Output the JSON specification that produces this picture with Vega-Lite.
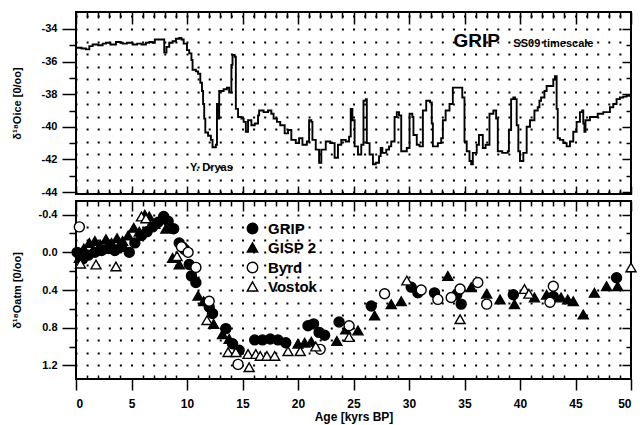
{
  "$schema": "https://vega.github.io/schema/vega-lite/v6.json",
  "background": "white",
  "padding": {"left": 10, "top": 10, "right": 5, "bottom": 2},
  "spacing": 0,
  "config": {
    "view": {"stroke": "black", "strokeWidth": 2},
    "font": "Liberation Sans",
    "axis": {
      "labelFont": "Liberation Sans", "labelFontWeight": "bold", "labelColor": "black", "labelFontSize": 11,
      "titleFont": "Liberation Sans", "titleFontWeight": "bold", "titleColor": "black", "titleFontSize": 11,
      "tickColor": "black", "tickWidth": 1.5, "domain": false, "grid": false
    }
  },
  "datasets": {
    "ice": [
      {"age": 0.0, "d18o": -35.15}, {"age": 0.5, "d18o": -35.2}, {"age": 0.9, "d18o": -35.25}, {"age": 1.2, "d18o": -35.05},
      {"age": 1.5, "d18o": -34.95}, {"age": 2.0, "d18o": -35.0}, {"age": 2.4, "d18o": -34.9}, {"age": 2.7, "d18o": -34.85},
      {"age": 3.1, "d18o": -34.95}, {"age": 3.6, "d18o": -34.8}, {"age": 4.0, "d18o": -34.85}, {"age": 4.2, "d18o": -34.9},
      {"age": 4.6, "d18o": -34.85}, {"age": 5.1, "d18o": -34.95}, {"age": 5.5, "d18o": -34.9}, {"age": 5.9, "d18o": -34.95},
      {"age": 6.3, "d18o": -34.85}, {"age": 6.6, "d18o": -34.8}, {"age": 6.9, "d18o": -34.85}, {"age": 7.1, "d18o": -34.65},
      {"age": 7.7, "d18o": -34.65}, {"age": 7.95, "d18o": -35.45}, {"age": 8.15, "d18o": -35.1}, {"age": 8.4, "d18o": -34.85},
      {"age": 8.7, "d18o": -34.75}, {"age": 9.0, "d18o": -34.6}, {"age": 9.3, "d18o": -34.55}, {"age": 9.5, "d18o": -34.65},
      {"age": 9.7, "d18o": -34.9}, {"age": 10.0, "d18o": -35.3}, {"age": 10.2, "d18o": -35.5}, {"age": 10.4, "d18o": -35.9},
      {"age": 10.5, "d18o": -36.5}, {"age": 10.8, "d18o": -36.6}, {"age": 11.0, "d18o": -36.75}, {"age": 11.2, "d18o": -37.3},
      {"age": 11.35, "d18o": -37.8}, {"age": 11.45, "d18o": -38.6}, {"age": 11.55, "d18o": -39.5}, {"age": 11.65, "d18o": -40.35},
      {"age": 11.9, "d18o": -40.55}, {"age": 12.15, "d18o": -40.8}, {"age": 12.3, "d18o": -41.25}, {"age": 12.6, "d18o": -41.1},
      {"age": 12.7, "d18o": -38.6}, {"age": 12.8, "d18o": -39.5}, {"age": 12.9, "d18o": -37.8}, {"age": 13.3, "d18o": -37.7},
      {"age": 13.6, "d18o": -37.6}, {"age": 13.8, "d18o": -37.9}, {"age": 14.0, "d18o": -36.2}, {"age": 14.1, "d18o": -35.6},
      {"age": 14.3, "d18o": -35.7}, {"age": 14.4, "d18o": -38.9}, {"age": 14.6, "d18o": -39.4}, {"age": 14.9, "d18o": -39.5},
      {"age": 15.1, "d18o": -39.7}, {"age": 15.3, "d18o": -40.3}, {"age": 15.5, "d18o": -39.6}, {"age": 15.8, "d18o": -39.9},
      {"age": 16.1, "d18o": -39.8}, {"age": 16.4, "d18o": -39.3}, {"age": 16.5, "d18o": -39.0}, {"age": 16.9, "d18o": -39.1},
      {"age": 17.3, "d18o": -39.0}, {"age": 17.6, "d18o": -39.2}, {"age": 17.8, "d18o": -39.5}, {"age": 18.1, "d18o": -39.7},
      {"age": 18.4, "d18o": -39.9}, {"age": 18.8, "d18o": -40.4}, {"age": 19.1, "d18o": -40.2}, {"age": 19.4, "d18o": -40.8},
      {"age": 19.8, "d18o": -41.0}, {"age": 20.1, "d18o": -40.7}, {"age": 20.4, "d18o": -41.1}, {"age": 20.8, "d18o": -40.9},
      {"age": 21.0, "d18o": -39.6}, {"age": 21.2, "d18o": -39.7}, {"age": 21.3, "d18o": -40.8}, {"age": 21.6, "d18o": -41.4},
      {"age": 21.9, "d18o": -42.2}, {"age": 22.1, "d18o": -41.4}, {"age": 22.5, "d18o": -40.9}, {"age": 22.9, "d18o": -41.0},
      {"age": 23.3, "d18o": -41.9}, {"age": 23.6, "d18o": -41.1}, {"age": 23.9, "d18o": -40.8}, {"age": 24.3, "d18o": -40.9},
      {"age": 24.6, "d18o": -40.6}, {"age": 24.75, "d18o": -38.9}, {"age": 24.9, "d18o": -39.6}, {"age": 25.1, "d18o": -41.2},
      {"age": 25.4, "d18o": -41.7}, {"age": 25.7, "d18o": -41.1}, {"age": 25.9, "d18o": -38.4}, {"age": 26.1, "d18o": -38.3},
      {"age": 26.2, "d18o": -41.0}, {"age": 26.45, "d18o": -41.7}, {"age": 26.75, "d18o": -42.3}, {"age": 27.0, "d18o": -42.2},
      {"age": 27.3, "d18o": -41.8}, {"age": 27.45, "d18o": -41.3}, {"age": 27.6, "d18o": -41.6}, {"age": 27.95, "d18o": -41.4},
      {"age": 28.2, "d18o": -41.2}, {"age": 28.4, "d18o": -40.9}, {"age": 28.7, "d18o": -39.4}, {"age": 28.9, "d18o": -39.1},
      {"age": 29.1, "d18o": -39.3}, {"age": 29.3, "d18o": -41.5}, {"age": 29.6, "d18o": -41.5}, {"age": 29.8, "d18o": -41.3},
      {"age": 30.05, "d18o": -39.2}, {"age": 30.3, "d18o": -39.4}, {"age": 30.4, "d18o": -40.5}, {"age": 30.7, "d18o": -41.1},
      {"age": 30.95, "d18o": -41.2}, {"age": 31.25, "d18o": -39.0}, {"age": 31.55, "d18o": -38.4}, {"age": 31.9, "d18o": -38.5},
      {"age": 32.05, "d18o": -39.8}, {"age": 32.15, "d18o": -41.2}, {"age": 32.6, "d18o": -41.0}, {"age": 32.9, "d18o": -40.7},
      {"age": 33.05, "d18o": -39.6}, {"age": 33.3, "d18o": -39.0}, {"age": 33.65, "d18o": -38.6}, {"age": 33.95, "d18o": -37.6},
      {"age": 34.5, "d18o": -37.6}, {"age": 34.8, "d18o": -38.2}, {"age": 35.0, "d18o": -40.9}, {"age": 35.2, "d18o": -41.5},
      {"age": 35.45, "d18o": -42.1}, {"age": 35.6, "d18o": -42.3}, {"age": 35.75, "d18o": -41.6}, {"age": 36.1, "d18o": -41.1},
      {"age": 36.3, "d18o": -40.5}, {"age": 36.5, "d18o": -40.5}, {"age": 36.65, "d18o": -41.3}, {"age": 36.9, "d18o": -41.1},
      {"age": 37.25, "d18o": -39.2}, {"age": 37.6, "d18o": -39.0}, {"age": 37.85, "d18o": -39.5}, {"age": 38.0, "d18o": -41.5},
      {"age": 38.4, "d18o": -41.6}, {"age": 38.9, "d18o": -41.5}, {"age": 39.0, "d18o": -40.2}, {"age": 39.2, "d18o": -38.3},
      {"age": 39.4, "d18o": -38.2}, {"age": 39.55, "d18o": -38.3}, {"age": 39.7, "d18o": -39.9}, {"age": 39.85, "d18o": -41.5},
      {"age": 40.0, "d18o": -42.1}, {"age": 40.3, "d18o": -41.6}, {"age": 40.6, "d18o": -40.0}, {"age": 40.9, "d18o": -39.6},
      {"age": 41.3, "d18o": -39.0}, {"age": 41.6, "d18o": -38.8}, {"age": 41.75, "d18o": -38.4}, {"age": 41.9, "d18o": -38.2},
      {"age": 42.2, "d18o": -37.8}, {"age": 42.4, "d18o": -37.5}, {"age": 42.7, "d18o": -37.5}, {"age": 43.0, "d18o": -37.1},
      {"age": 43.15, "d18o": -36.9}, {"age": 43.3, "d18o": -38.9}, {"age": 43.4, "d18o": -40.7}, {"age": 43.6, "d18o": -40.8},
      {"age": 43.9, "d18o": -41.0}, {"age": 44.2, "d18o": -41.2}, {"age": 44.5, "d18o": -40.9}, {"age": 44.8, "d18o": -40.3},
      {"age": 45.1, "d18o": -39.7}, {"age": 45.4, "d18o": -39.1}, {"age": 45.6, "d18o": -39.0}, {"age": 45.7, "d18o": -39.8},
      {"age": 45.8, "d18o": -40.3}, {"age": 45.9, "d18o": -39.6}, {"age": 46.3, "d18o": -39.4}, {"age": 46.7, "d18o": -39.4},
      {"age": 47.0, "d18o": -39.2}, {"age": 47.5, "d18o": -39.1}, {"age": 47.8, "d18o": -39.1}, {"age": 48.1, "d18o": -38.8},
      {"age": 48.4, "d18o": -38.6}, {"age": 48.7, "d18o": -38.3}, {"age": 49.0, "d18o": -38.2}, {"age": 49.3, "d18o": -38.15},
      {"age": 49.6, "d18o": -38.1}, {"age": 50.0, "d18o": -38.0}
    ],
    "atm": [
      {"series": "GRIP", "age": 0.1, "d18o": 0.0}, {"series": "GRIP", "age": 0.6, "d18o": 0.07}, {"series": "GRIP", "age": 1.1, "d18o": 0.03},
      {"series": "GRIP", "age": 1.7, "d18o": 0.0}, {"series": "GRIP", "age": 2.3, "d18o": -0.02}, {"series": "GRIP", "age": 2.9, "d18o": -0.04},
      {"series": "GRIP", "age": 3.5, "d18o": -0.02}, {"series": "GRIP", "age": 4.1, "d18o": -0.06}, {"series": "GRIP", "age": 4.8, "d18o": 0.0},
      {"series": "GRIP", "age": 5.3, "d18o": -0.1}, {"series": "GRIP", "age": 5.9, "d18o": -0.18}, {"series": "GRIP", "age": 6.4, "d18o": -0.22},
      {"series": "GRIP", "age": 6.9, "d18o": -0.27}, {"series": "GRIP", "age": 7.4, "d18o": -0.32}, {"series": "GRIP", "age": 7.9, "d18o": -0.38},
      {"series": "GRIP", "age": 8.3, "d18o": -0.33}, {"series": "GRIP", "age": 8.8, "d18o": -0.25}, {"series": "GRIP", "age": 9.3, "d18o": -0.1},
      {"series": "GRIP", "age": 9.8, "d18o": -0.03}, {"series": "GRIP", "age": 10.2, "d18o": 0.13}, {"series": "GRIP", "age": 10.4, "d18o": 0.25},
      {"series": "GRIP", "age": 10.8, "d18o": 0.32}, {"series": "GRIP", "age": 12.0, "d18o": 0.58}, {"series": "GRIP", "age": 12.3, "d18o": 0.65},
      {"series": "GRIP", "age": 13.5, "d18o": 0.81}, {"series": "GRIP", "age": 14.1, "d18o": 0.97}, {"series": "GRIP", "age": 14.7, "d18o": 1.04},
      {"series": "GRIP", "age": 16.1, "d18o": 0.93}, {"series": "GRIP", "age": 16.8, "d18o": 0.93}, {"series": "GRIP", "age": 17.5, "d18o": 0.92},
      {"series": "GRIP", "age": 18.2, "d18o": 0.93}, {"series": "GRIP", "age": 18.9, "d18o": 0.96}, {"series": "GRIP", "age": 20.9, "d18o": 0.78},
      {"series": "GRIP", "age": 21.4, "d18o": 0.76}, {"series": "GRIP", "age": 21.9, "d18o": 0.85}, {"series": "GRIP", "age": 22.4, "d18o": 0.88},
      {"series": "GRIP", "age": 23.7, "d18o": 0.74}, {"series": "GRIP", "age": 26.6, "d18o": 0.57}, {"series": "GRIP", "age": 30.2, "d18o": 0.37},
      {"series": "GRIP", "age": 30.8, "d18o": 0.43}, {"series": "GRIP", "age": 32.3, "d18o": 0.43}, {"series": "GRIP", "age": 34.3, "d18o": 0.45},
      {"series": "GRIP", "age": 34.7, "d18o": 0.55}, {"series": "GRIP", "age": 39.4, "d18o": 0.45}, {"series": "GRIP", "age": 43.0, "d18o": 0.47},
      {"series": "GRIP", "age": 48.7, "d18o": 0.27},
      {"series": "GISP 2", "age": 0.3, "d18o": 0.06}, {"series": "GISP 2", "age": 0.7, "d18o": -0.04}, {"series": "GISP 2", "age": 1.2, "d18o": -0.1},
      {"series": "GISP 2", "age": 1.7, "d18o": -0.12}, {"series": "GISP 2", "age": 2.2, "d18o": -0.08}, {"series": "GISP 2", "age": 2.7, "d18o": -0.14},
      {"series": "GISP 2", "age": 3.2, "d18o": -0.1}, {"series": "GISP 2", "age": 3.7, "d18o": -0.15}, {"series": "GISP 2", "age": 4.2, "d18o": -0.12},
      {"series": "GISP 2", "age": 4.7, "d18o": -0.18}, {"series": "GISP 2", "age": 5.2, "d18o": -0.26}, {"series": "GISP 2", "age": 5.7, "d18o": -0.22},
      {"series": "GISP 2", "age": 6.2, "d18o": -0.4}, {"series": "GISP 2", "age": 6.6, "d18o": -0.38}, {"series": "GISP 2", "age": 7.1, "d18o": -0.3},
      {"series": "GISP 2", "age": 7.6, "d18o": -0.36}, {"series": "GISP 2", "age": 8.1, "d18o": -0.25}, {"series": "GISP 2", "age": 8.7, "d18o": 0.06},
      {"series": "GISP 2", "age": 9.3, "d18o": 0.13}, {"series": "GISP 2", "age": 9.9, "d18o": -0.05}, {"series": "GISP 2", "age": 11.0, "d18o": 0.46},
      {"series": "GISP 2", "age": 11.5, "d18o": 0.52}, {"series": "GISP 2", "age": 12.4, "d18o": 0.76}, {"series": "GISP 2", "age": 13.2, "d18o": 0.87},
      {"series": "GISP 2", "age": 13.8, "d18o": 0.92}, {"series": "GISP 2", "age": 20.0, "d18o": 0.97}, {"series": "GISP 2", "age": 20.6, "d18o": 0.96},
      {"series": "GISP 2", "age": 21.2, "d18o": 0.95}, {"series": "GISP 2", "age": 23.5, "d18o": 0.94}, {"series": "GISP 2", "age": 24.3, "d18o": 0.82},
      {"series": "GISP 2", "age": 25.4, "d18o": 0.83}, {"series": "GISP 2", "age": 26.9, "d18o": 0.67}, {"series": "GISP 2", "age": 28.4, "d18o": 0.55},
      {"series": "GISP 2", "age": 29.3, "d18o": 0.52}, {"series": "GISP 2", "age": 33.5, "d18o": 0.25}, {"series": "GISP 2", "age": 35.6, "d18o": 0.37},
      {"series": "GISP 2", "age": 37.0, "d18o": 0.44}, {"series": "GISP 2", "age": 38.2, "d18o": 0.5}, {"series": "GISP 2", "age": 39.5, "d18o": 0.55},
      {"series": "GISP 2", "age": 41.3, "d18o": 0.48}, {"series": "GISP 2", "age": 42.4, "d18o": 0.45}, {"series": "GISP 2", "age": 43.7, "d18o": 0.48},
      {"series": "GISP 2", "age": 44.3, "d18o": 0.5}, {"series": "GISP 2", "age": 44.8, "d18o": 0.52}, {"series": "GISP 2", "age": 45.7, "d18o": 0.66},
      {"series": "GISP 2", "age": 46.7, "d18o": 0.43}, {"series": "GISP 2", "age": 47.8, "d18o": 0.36}, {"series": "GISP 2", "age": 48.8, "d18o": 0.36},
      {"series": "Byrd", "age": 0.3, "d18o": -0.27}, {"series": "Byrd", "age": 9.5, "d18o": -0.06}, {"series": "Byrd", "age": 10.1, "d18o": 0.0},
      {"series": "Byrd", "age": 10.8, "d18o": 0.16}, {"series": "Byrd", "age": 12.0, "d18o": 0.52}, {"series": "Byrd", "age": 14.6, "d18o": 1.19},
      {"series": "Byrd", "age": 22.0, "d18o": 1.03}, {"series": "Byrd", "age": 24.6, "d18o": 0.78}, {"series": "Byrd", "age": 27.8, "d18o": 0.44},
      {"series": "Byrd", "age": 31.1, "d18o": 0.4}, {"series": "Byrd", "age": 32.6, "d18o": 0.5}, {"series": "Byrd", "age": 33.8, "d18o": 0.48},
      {"series": "Byrd", "age": 34.6, "d18o": 0.39}, {"series": "Byrd", "age": 36.2, "d18o": 0.32}, {"series": "Byrd", "age": 37.0, "d18o": 0.55},
      {"series": "Byrd", "age": 42.7, "d18o": 0.53}, {"series": "Byrd", "age": 43.0, "d18o": 0.36},
      {"series": "Vostok", "age": 0.4, "d18o": 0.12}, {"series": "Vostok", "age": 1.8, "d18o": 0.13}, {"series": "Vostok", "age": 3.6, "d18o": 0.15},
      {"series": "Vostok", "age": 5.9, "d18o": -0.38}, {"series": "Vostok", "age": 6.3, "d18o": -0.36}, {"series": "Vostok", "age": 9.1, "d18o": 0.04},
      {"series": "Vostok", "age": 11.8, "d18o": 0.72}, {"series": "Vostok", "age": 13.7, "d18o": 1.06}, {"series": "Vostok", "age": 14.4, "d18o": 1.06},
      {"series": "Vostok", "age": 15.6, "d18o": 1.22}, {"series": "Vostok", "age": 15.5, "d18o": 1.08}, {"series": "Vostok", "age": 16.2, "d18o": 1.08},
      {"series": "Vostok", "age": 16.6, "d18o": 1.1}, {"series": "Vostok", "age": 17.2, "d18o": 1.1}, {"series": "Vostok", "age": 17.9, "d18o": 1.1},
      {"series": "Vostok", "age": 19.1, "d18o": 1.05}, {"series": "Vostok", "age": 20.2, "d18o": 1.05}, {"series": "Vostok", "age": 21.6, "d18o": 1.0},
      {"series": "Vostok", "age": 24.6, "d18o": 0.9}, {"series": "Vostok", "age": 29.8, "d18o": 0.3}, {"series": "Vostok", "age": 34.6, "d18o": 0.71},
      {"series": "Vostok", "age": 40.4, "d18o": 0.39}, {"series": "Vostok", "age": 40.8, "d18o": 0.44}, {"series": "Vostok", "age": 50.0, "d18o": 0.16}
    ]
  },
  "vconcat": [
    {
      "width": 555,
      "height": 182,
      "layer": [
        {
          "data": {"name": "ice"},
          "mark": {"type": "line", "interpolate": "step-after", "color": "black", "strokeWidth": 1.9},
          "encoding": {
            "x": {"field": "age", "type": "quantitative", "scale": {"domain": [0, 50], "nice": false},
              "axis": {"orient": "bottom", "title": null, "labels": false,
                "values": [0,1,2,3,4,5,6,7,8,9,10,11,12,13,14,15,16,17,18,19,20,21,22,23,24,25,26,27,28,29,30,31,32,33,34,35,36,37,38,39,40,41,42,43,44,45,46,47,48,49,50],
                "tickSize": {"condition": {"test": "datum.value % 5 === 0", "value": -8}, "value": -5}}},
            "y": {"field": "d18o", "type": "quantitative", "scale": {"domain": [-44.12, -32.96], "nice": false, "zero": false},
              "axis": {"orient": "left", "title": "δ¹⁸Oice [0/oo]", "titlePadding": 19, "labelPadding": 5,
                "values": [-44,-43,-42,-41,-40,-39,-38,-37,-36,-35,-34],
                "labelExpr": "datum.value % 2 === 0 ? '' + datum.value : ''",
                "tickSize": {"condition": {"test": "datum.value % 2 === 0", "value": 14}, "value": 7}}}
          }
        },
        {
          "data": {"values": [{"age": 36.1, "d18o": -34.74, "label": "GRIP"}]},
          "mark": {"type": "text", "fontSize": 19, "fontWeight": "bold", "font": "Liberation Sans", "align": "center", "baseline": "middle", "color": "black"},
          "encoding": {
            "text": {"field": "label"},
            "x": {"field": "age", "type": "quantitative", "scale": {"domain": [0, 50], "nice": false},
              "axis": {"orient": "top", "title": null, "labels": false,
                "values": [0,1,2,3,4,5,6,7,8,9,10,11,12,13,14,15,16,17,18,19,20,21,22,23,24,25,26,27,28,29,30,31,32,33,34,35,36,37,38,39,40,41,42,43,44,45,46,47,48,49,50],
                "tickSize": {"condition": {"test": "datum.value % 5 === 0", "value": -12}, "value": -6}}},
            "y": {"field": "d18o", "type": "quantitative", "scale": {"domain": [-44.12, -32.96], "nice": false, "zero": false},
              "axis": {"orient": "right", "title": null, "labels": false,
                "values": [-44,-43,-42,-41,-40,-39,-38,-37,-36,-35,-34],
                "tickSize": {"condition": {"test": "datum.value % 2 === 0", "value": -9}, "value": -5}}}
          }
        },
        {
          "data": {"values": [{"age": 39.4, "d18o": -34.95, "label": "SS09 timescale"}]},
          "mark": {"type": "text", "fontSize": 11, "fontWeight": "bold", "font": "Liberation Sans", "align": "left", "baseline": "middle", "color": "black"},
          "encoding": {
            "text": {"field": "label"},
            "x": {"field": "age", "type": "quantitative", "scale": {"domain": [0, 50], "nice": false}, "axis": null},
            "y": {"field": "d18o", "type": "quantitative", "scale": {"domain": [-44.12, -32.96], "nice": false, "zero": false},
              "axis": {"orient": "left", "title": null, "labels": false, "ticks": false, "domain": false, "grid": true,
                "values": [-33.231,-34,-34.769,-35.538,-36.308,-37.077,-37.846,-38.615,-39.385,-40.154,-40.923,-41.692,-42.462,-43.231,-44],
                "gridColor": "black", "gridWidth": 2, "gridOpacity": 1, "gridDash": [2, 9.1], "gridDashOffset": 1}}
          }
        },
        {
          "data": {"values": [{"age": 10.27, "d18o": -42.51, "label": "Y. Dryas"}]},
          "mark": {"type": "text", "fontSize": 11, "fontWeight": "bold", "font": "Liberation Sans", "align": "left", "baseline": "middle", "color": "black"},
          "encoding": {
            "text": {"field": "label"},
            "x": {"field": "age", "type": "quantitative", "scale": {"domain": [0, 50], "nice": false}, "axis": null},
            "y": {"field": "d18o", "type": "quantitative", "scale": {"domain": [-44.12, -32.96], "nice": false, "zero": false}, "axis": null}
          }
        }
      ],
      "resolve": {"axis": {"x": "independent", "y": "independent"}}
    },
    {
      "width": 555,
      "height": 178,
      "layer": [
        {
          "data": {"name": "atm"},
          "mark": {"type": "point", "filled": true, "size": 100, "stroke": "black", "strokeWidth": 1.4, "opacity": 1, "fillOpacity": 1, "strokeOpacity": 1},
          "encoding": {
            "x": {"field": "age", "type": "quantitative", "scale": {"domain": [0, 50], "nice": false},
              "axis": {"orient": "bottom", "title": "Age [kyrs BP]", "titleFontSize": 12, "titlePadding": 2, "labelFontSize": 12, "labelPadding": 8,
                "values": [0,1,2,3,4,5,6,7,8,9,10,11,12,13,14,15,16,17,18,19,20,21,22,23,24,25,26,27,28,29,30,31,32,33,34,35,36,37,38,39,40,41,42,43,44,45,46,47,48,49,50],
                "labelExpr": "datum.value % 5 === 0 ? '' + datum.value : ''",
                "tickSize": {"condition": {"test": "datum.value % 5 === 0", "value": 11}, "value": -4}}},
            "y": {"field": "d18o", "type": "quantitative", "scale": {"domain": [1.345, -0.545], "nice": false, "zero": false},
              "axis": {"orient": "left", "title": "δ¹⁸Oatm [0/oo]", "titlePadding": 16, "labelPadding": 5,
                "values": [-0.4,-0.2,0,0.2,0.4,0.6,0.8,1.0,1.2],
                "labelExpr": "round(datum.value*10) % 4 === 0 ? (datum.value < 0 ? '-' : '') + format(abs(datum.value), '.1f') : ''",
                "tickSize": {"condition": {"test": "round(datum.value*10) % 4 === 0", "value": 14}, "value": 7}}},
            "shape": {"field": "series", "type": "nominal",
              "scale": {"domain": ["GRIP", "GISP 2", "Byrd", "Vostok"], "range": ["circle", "triangle-up", "circle", "triangle-up"]},
              "legend": {"orient": "none", "legendX": 169, "legendY": 209, "title": null, "padding": 0,
                "labelFont": "Liberation Sans", "labelFontSize": 15, "labelFontWeight": "bold", "labelColor": "black",
                "symbolSize": 110, "symbolStrokeWidth": 1.4, "labelOffset": 8, "rowPadding": 3}},
            "fill": {"field": "series", "type": "nominal",
              "scale": {"domain": ["GRIP", "GISP 2", "Byrd", "Vostok"], "range": ["black", "black", "white", "white"]},
              "legend": {"orient": "none", "legendX": 169, "legendY": 209, "title": null, "padding": 0,
                "labelFont": "Liberation Sans", "labelFontSize": 15, "labelFontWeight": "bold", "labelColor": "black",
                "symbolSize": 110, "symbolStrokeWidth": 1.4, "labelOffset": 8, "rowPadding": 3}}
          }
        },
        {
          "data": {"name": "atm"},
          "mark": {"type": "point", "opacity": 0},
          "encoding": {
            "x": {"field": "age", "type": "quantitative", "scale": {"domain": [0, 50], "nice": false},
              "axis": {"orient": "top", "title": null, "labels": false,
                "values": [0,1,2,3,4,5,6,7,8,9,10,11,12,13,14,15,16,17,18,19,20,21,22,23,24,25,26,27,28,29,30,31,32,33,34,35,36,37,38,39,40,41,42,43,44,45,46,47,48,49,50],
                "tickSize": {"condition": {"test": "datum.value % 5 === 0", "value": -10}, "value": -5}}},
            "y": {"field": "d18o", "type": "quantitative", "scale": {"domain": [1.345, -0.545], "nice": false, "zero": false},
              "axis": {"orient": "right", "title": null, "labels": false,
                "values": [-0.4,-0.2,0,0.2,0.4,0.6,0.8,1.0,1.2],
                "tickSize": {"condition": {"test": "round(datum.value*10) % 4 === 0", "value": -9}, "value": -5}}}
          }
        },
        {
          "data": {"name": "atm"},
          "mark": {"type": "point", "opacity": 0},
          "encoding": {
            "x": {"field": "age", "type": "quantitative", "scale": {"domain": [0, 50], "nice": false}, "axis": null},
            "y": {"field": "d18o", "type": "quantitative", "scale": {"domain": [1.345, -0.545], "nice": false, "zero": false},
              "axis": {"orient": "left", "title": null, "labels": false, "ticks": false, "domain": false, "grid": true,
                "values": [-0.4,-0.2667,-0.1333,0,0.1333,0.2667,0.4,0.5333,0.6667,0.8,0.9333,1.0667,1.2],
                "gridColor": "black", "gridWidth": 2, "gridOpacity": 1, "gridDash": [2, 9.1], "gridDashOffset": 1}}
          }
        }
      ],
      "resolve": {"axis": {"x": "independent", "y": "independent"}}
    }
  ]
}
